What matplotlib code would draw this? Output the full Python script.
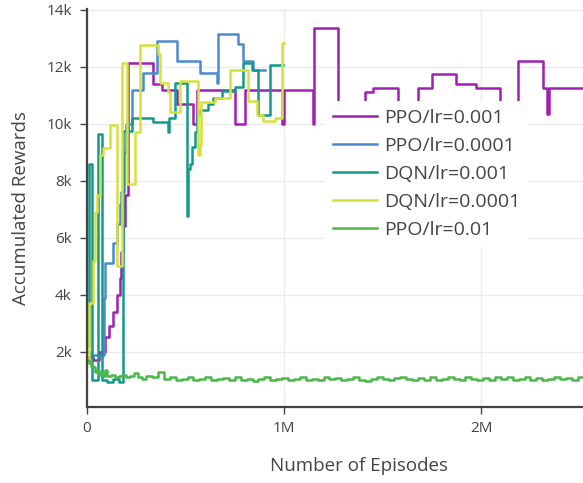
import matplotlib.pyplot as plt
import matplotlib.ticker as mticker

# x in millions of episodes, y in thousands of reward (step change points)
ppo_001_x = [0.0, 0.03, 0.06, 0.09, 0.11, 0.13, 0.15, 0.165, 0.175, 0.185, 0.195, 0.208,
             0.335, 0.38, 0.457, 0.538, 0.558, 0.75, 0.80, 0.99, 1.0, 1.147, 1.152, 1.274,
             1.41, 1.452, 1.579, 1.68, 1.751, 1.873, 1.975, 2.096, 2.188, 2.315, 2.335,
             2.345, 2.62]
ppo_001_y = [1.8, 1.7, 2.0, 2.5, 2.9, 3.4, 4.0, 4.6, 5.5, 6.4, 7.5, 12.15,
             11.4, 11.2, 10.7, 10.0, 11.2, 10.0, 11.2, 10.0, 11.2, 10.0, 13.35, 10.0,
             11.1, 11.27, 10.0, 11.27, 11.75, 11.4, 11.27, 10.0, 12.2, 11.27, 10.35,
             11.27, 11.27]

ppo_0001_x = [0.0, 0.02, 0.085, 0.09, 0.13, 0.15, 0.165, 0.175, 0.19, 0.2, 0.228, 0.284,
              0.355, 0.457, 0.574, 0.66, 0.665, 0.766, 0.79, 0.843, 0.904]
ppo_0001_y = [2.0, 1.9, 3.9, 5.1, 5.8, 6.5, 7.2, 7.6, 9.0, 10.0, 11.2, 11.8,
              12.9, 12.2, 11.8, 11.45, 13.15, 12.8, 12.2, 11.9, 11.9]

dqn_001_x = [0.0, 0.01, 0.025, 0.055, 0.075, 0.10, 0.13, 0.16, 0.185, 0.228, 0.335, 0.411,
             0.416, 0.447, 0.508, 0.513, 0.523, 0.533, 0.548, 0.558, 0.572, 0.614, 0.64,
             0.685, 0.75, 0.792, 0.838, 0.868, 0.929, 0.995]
dqn_001_y = [2.2, 8.6, 1.0, 9.65, 1.0, 0.95, 1.05, 0.95, 9.75, 10.2, 10.05, 9.7,
             10.2, 11.45, 6.75, 8.4, 8.6, 9.2, 9.7, 10.35, 10.5, 10.7, 10.9,
             11.15, 11.3, 12.15, 11.9, 10.3, 12.05, 12.05]

dqn_0001_x = [0.0, 0.01, 0.03, 0.04, 0.05, 0.065, 0.08, 0.117, 0.152, 0.178, 0.203, 0.244,
              0.269, 0.36, 0.371, 0.411, 0.421, 0.472, 0.563, 0.574, 0.58, 0.65, 0.726,
              0.817, 0.863, 0.893, 0.954, 0.99, 1.0]
dqn_0001_y = [1.6, 3.7, 5.2, 6.9, 7.5, 8.9, 9.15, 9.95, 5.0, 12.15, 7.9, 9.7,
              12.75, 12.45, 11.45, 11.1, 10.4, 11.5, 8.9, 9.3, 10.75, 10.9, 11.9,
              10.8, 10.3, 10.1, 10.2, 12.85, 12.85]

ppo_01_x = [0.0, 0.01, 0.02, 0.03, 0.04, 0.05, 0.06, 0.07, 0.08, 0.09, 0.10, 0.12, 0.14,
            0.16, 0.18, 0.20, 0.22, 0.24, 0.26, 0.28, 0.30, 0.33, 0.36, 0.39, 0.42, 0.45,
            0.48, 0.51, 0.54, 0.57, 0.60, 0.63, 0.66, 0.69, 0.72, 0.75, 0.78, 0.81, 0.84,
            0.87, 0.90, 0.93, 0.96, 0.99, 1.02, 1.05, 1.08, 1.11, 1.14, 1.17, 1.20, 1.23,
            1.26, 1.29, 1.32, 1.35, 1.38, 1.41, 1.44, 1.47, 1.50, 1.53, 1.56, 1.59, 1.62,
            1.65, 1.68, 1.71, 1.74, 1.77, 1.80, 1.83, 1.86, 1.89, 1.92, 1.95, 1.98, 2.01,
            2.04, 2.07, 2.10, 2.13, 2.16, 2.19, 2.22, 2.25, 2.28, 2.31, 2.34, 2.37, 2.40,
            2.43, 2.46, 2.49, 2.52, 2.55, 2.58, 2.61]
ppo_01_y = [1.7, 1.6, 1.5, 1.45, 1.3, 1.35, 1.2, 1.25, 1.15, 1.35, 1.15, 1.2, 1.1,
            1.15, 1.2, 1.1, 1.15, 1.25, 1.1, 1.05, 1.15, 1.1, 1.3, 1.05, 1.1, 1.0,
            1.05, 1.1, 1.0, 1.05, 1.1, 1.0, 1.05, 1.08, 1.0, 1.1, 1.02, 1.06, 0.98,
            1.05, 1.1, 1.0, 1.04, 1.08, 1.0, 1.05, 1.12, 1.02, 1.06, 1.0, 1.1, 1.03,
            1.08, 1.0, 1.05, 1.1, 1.02, 0.98, 1.05, 1.1, 1.03, 1.0, 1.07, 1.12, 1.04,
            1.0, 1.08, 1.02, 1.1, 1.0, 1.06, 1.12, 1.04, 1.0, 1.1, 1.05, 1.02, 1.08,
            1.0, 1.1, 1.04, 1.12, 1.0, 1.06, 1.1, 1.02, 1.08, 1.0, 1.05, 1.1, 1.03,
            1.07, 1.0, 1.1, 1.04, 1.08, 1.02, 1.05]

series = [
    ("PPO/lr=0.001", ppo_001_x, ppo_001_y, "#a020b4"),
    ("PPO/lr=0.0001", ppo_0001_x, ppo_0001_y, "#4a8ad0"),
    ("DQN/lr=0.001", dqn_001_x, dqn_001_y, "#12998c"),
    ("DQN/lr=0.0001", dqn_0001_x, dqn_0001_y, "#d4e23a"),
    ("PPO/lr=0.01", ppo_01_x, ppo_01_y, "#4cb84a"),
]

plt.rcParams['font.family'] = ['Open Sans', 'DejaVu Sans']

fig = plt.figure(figsize=(5.83, 4.83), dpi=100)
ax = fig.add_axes([87/583, 76/483, 544/583, 398/483])

for label, x, y, c in series:
    ax.plot(x, y, drawstyle='steps-post', color=c, lw=1.8, label=label)

ax.set_xlim(0, 2.76)
ax.set_ylim(0.06, 14.03)
ax.set_xticks([0, 1, 2])
ax.set_yticks([2, 4, 6, 8, 10, 12, 14])
ax.xaxis.set_major_formatter(mticker.FuncFormatter(lambda v, p: "0" if v == 0 else "%dM" % v))
ax.yaxis.set_major_formatter(mticker.FuncFormatter(lambda v, p: "%dk" % v))
ax.grid(color='#ebebeb', lw=1)
ax.set_axisbelow(True)
for s in ['top', 'right']:
    ax.spines[s].set_visible(False)
for s in ['left', 'bottom']:
    ax.spines[s].set_color('#444444')
    ax.spines[s].set_linewidth(1.6)
ax.tick_params(colors='#444444', labelsize=11, length=5, width=1)
ax.tick_params(axis='y', pad=6)
ax.tick_params(axis='x', pad=5)
ax.set_xlabel('Number of Episodes', fontsize=13.5, color='#444444', labelpad=15)
ax.set_ylabel('Accumulated Rewards', fontsize=13.5, color='#444444', labelpad=12)

leg = ax.legend(loc='upper left', bbox_to_anchor=(325/583, 1 - 101/483),
                bbox_transform=fig.transFigure, fontsize=14, frameon=True,
                facecolor='white', edgecolor='none', framealpha=1, fancybox=False,
                handlelength=2.25, handletextpad=0.4, labelspacing=0.52, borderpad=0.4,
                borderaxespad=0)
for t in leg.get_texts():
    t.set_color('#444444')

fig.savefig('out.png', dpi=100)
